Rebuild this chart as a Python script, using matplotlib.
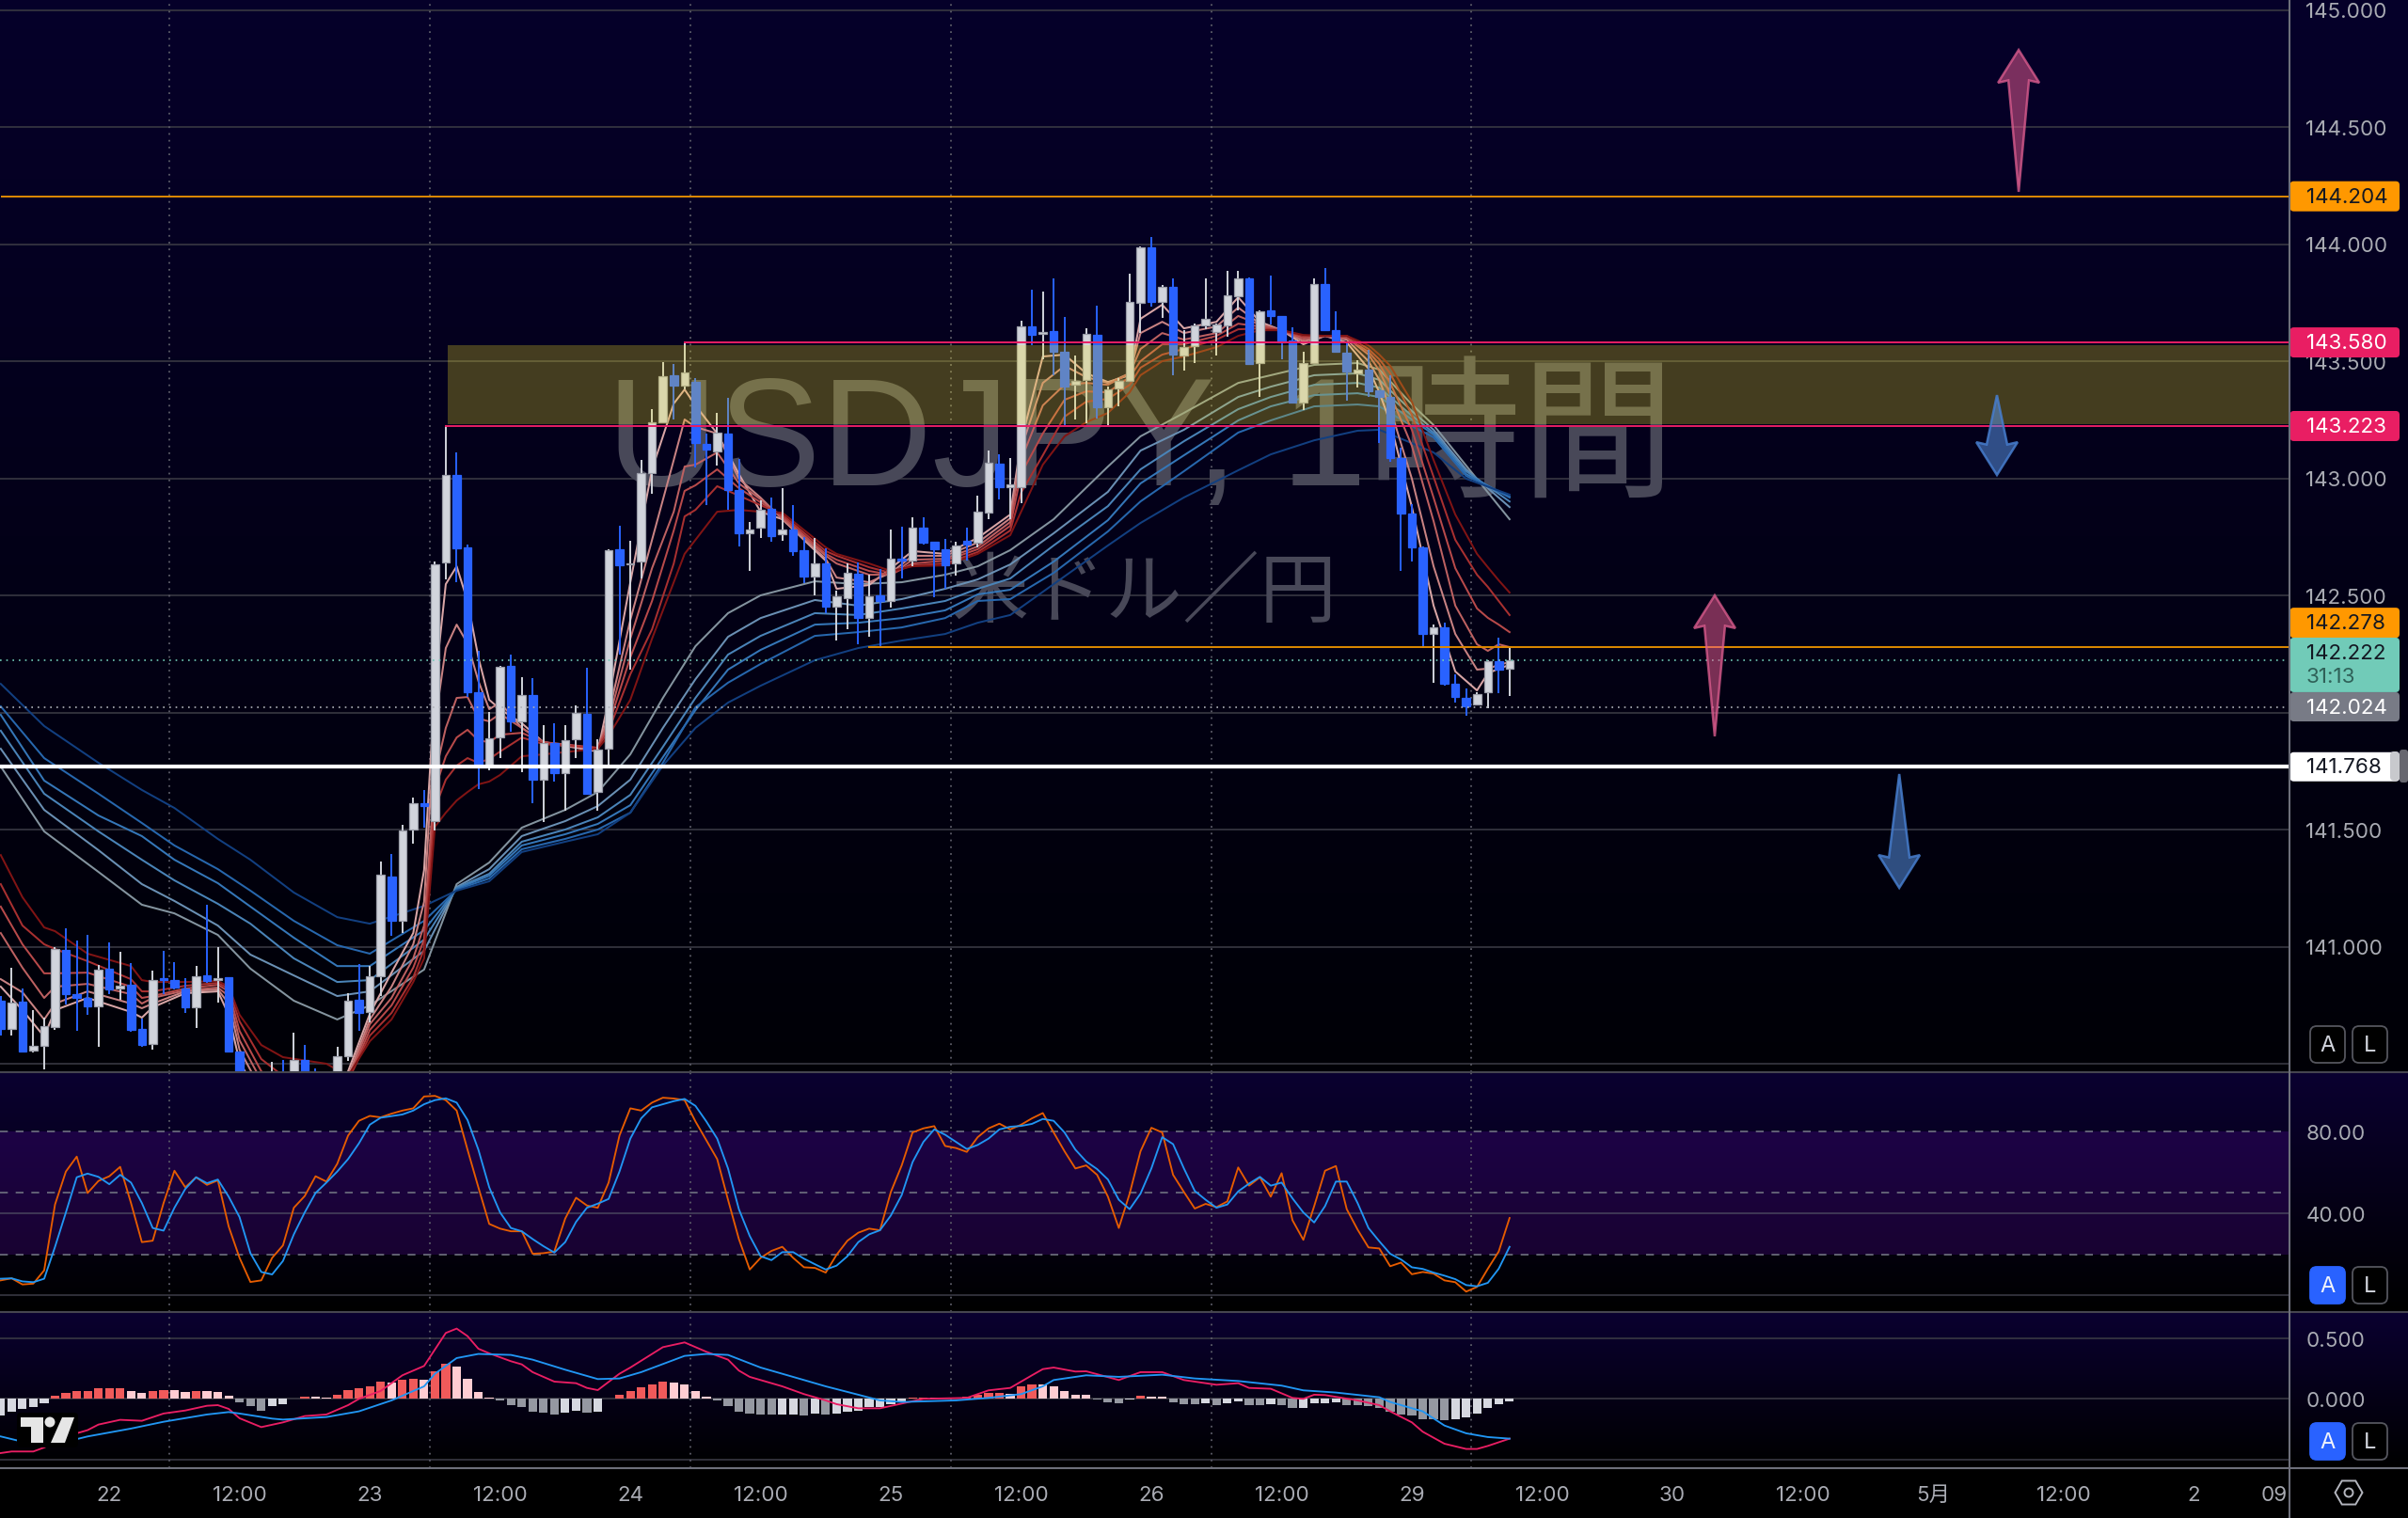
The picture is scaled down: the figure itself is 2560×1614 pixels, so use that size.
#!/usr/bin/env python
# coding=utf-8
import matplotlib
matplotlib.use('Agg')
import matplotlib.pyplot as plt
import numpy as np
from matplotlib.lines import Line2D
from matplotlib.patches import FancyBboxPatch, Polygon, Circle, RegularPolygon

plt.rcParams['font.family'] = ['Inter', 'Noto Sans CJK JP']

# candles, one hour each
opens = [140.769,140.648,140.765,140.557,140.577,140.658,140.987,140.797,140.782,140.745,
         140.905,140.820,140.836,140.648,140.584,140.865,140.856,140.820,140.741,140.876,
         140.857,140.869,140.551,140.400,140.340,140.360,140.440,140.380,140.517,140.440,
         140.380,140.420,140.532,140.772,140.722,140.874,141.299,141.110,141.500,141.612,
         141.536,142.641,143.014,142.705,142.086,141.773,141.894,142.199,141.962,142.074,
         141.713,141.869,141.741,141.886,141.994,141.661,141.845,142.697,142.633,142.645,
         143.022,143.239,143.440,143.396,143.412,143.147,143.114,143.191,142.950,142.765,
         142.789,142.869,142.761,142.781,142.693,142.580,142.637,142.452,142.488,142.592,
         142.404,142.500,142.476,142.657,142.649,142.789,142.729,142.697,142.637,142.733,
         142.725,142.853,143.062,142.962,142.962,143.649,143.616,143.628,143.540,143.400,
         143.420,143.612,143.303,143.384,143.416,143.749,143.986,143.753,143.817,143.524,
         143.564,143.653,143.624,143.653,143.777,143.853,143.492,143.717,143.693,143.588,
         143.323,143.492,143.829,143.633,143.536,143.448,143.464,143.375,143.347,143.086,
         142.849,142.705,142.335,142.363,142.123,142.062,142.034,142.086,142.219,142.187]
closes = [140.648,140.762,140.552,140.577,140.659,140.990,140.796,140.781,140.745,140.903,
          140.816,140.833,140.646,140.581,140.859,140.859,140.826,140.741,140.875,140.852,
          140.864,140.551,140.401,140.340,140.300,140.440,140.360,140.517,140.390,140.380,
          140.420,140.531,140.769,140.718,140.875,141.307,141.110,141.496,141.612,141.600,
          142.633,143.014,142.701,142.086,141.781,141.890,142.195,141.962,142.074,141.713,
          141.869,141.741,141.882,141.998,141.653,141.841,142.693,142.629,142.637,143.022,
          143.239,143.436,143.396,143.452,143.151,143.122,143.195,142.950,142.765,142.781,
          142.865,142.753,142.781,142.689,142.580,142.637,142.452,142.496,142.596,142.404,
          142.496,142.476,142.657,142.649,142.789,142.725,142.697,142.629,142.713,142.717,
          142.857,143.066,142.962,142.974,143.649,143.612,143.624,143.540,143.392,143.416,
          143.616,143.303,143.380,143.416,143.753,143.986,143.753,143.817,143.528,143.560,
          143.653,143.681,143.657,143.781,143.853,143.488,143.713,143.693,143.580,143.323,
          143.492,143.829,143.633,143.540,143.456,143.464,143.371,143.347,143.086,142.849,
          142.705,142.335,142.363,142.123,142.066,142.026,142.078,142.219,142.183,142.222]
highs = [140.789,140.909,140.822,140.729,140.695,140.996,141.077,141.026,141.050,140.920,
         141.019,140.976,140.930,140.693,140.896,140.982,140.932,140.865,140.916,141.177,
         140.996,140.869,140.551,140.400,140.380,140.510,140.515,140.632,140.579,140.481,
         140.440,140.571,140.802,140.926,140.916,141.363,141.396,141.520,141.637,141.669,
         142.645,143.227,143.110,142.717,142.263,142.002,142.199,142.247,142.151,142.147,
         141.946,141.954,141.946,142.030,142.191,141.886,142.697,142.797,142.733,143.078,
         143.295,143.496,143.488,143.576,143.428,143.191,143.279,143.343,143.082,142.813,
         142.906,142.918,142.958,142.886,142.749,142.745,142.701,142.520,142.637,142.641,
         142.588,142.612,142.781,142.793,142.833,142.833,142.729,142.741,142.729,142.789,
         142.926,143.118,143.102,143.086,143.673,143.805,143.797,143.853,143.689,143.524,
         143.641,143.737,143.392,143.428,143.873,143.990,144.030,143.825,143.853,143.633,
         143.661,143.853,143.661,143.886,143.886,143.858,143.717,143.865,143.693,143.645,
         143.540,143.853,143.898,143.713,143.576,143.504,143.548,143.375,143.440,143.131,
         142.890,142.709,142.376,142.384,142.163,142.102,142.086,142.223,142.319,142.279]
lows = [140.622,140.622,140.552,140.548,140.474,140.646,140.755,140.642,140.709,140.572,
        140.796,140.773,140.638,140.571,140.559,140.796,140.816,140.718,140.652,140.845,
        140.762,140.551,140.380,140.300,140.260,140.300,140.300,140.340,140.350,140.340,
        140.320,140.380,140.514,140.639,140.675,140.789,141.046,141.058,141.440,141.508,
        141.496,142.568,142.556,142.066,141.673,141.753,141.805,141.918,141.745,141.612,
        141.532,141.705,141.580,141.805,141.653,141.580,141.761,142.247,142.183,142.572,
        142.934,143.239,143.251,143.380,143.046,142.886,143.054,142.865,142.709,142.604,
        142.745,142.729,142.733,142.669,142.552,142.500,142.424,142.307,142.355,142.291,
        142.323,142.283,142.448,142.572,142.624,142.717,142.492,142.528,142.584,142.649,
        142.705,142.825,142.910,142.825,142.894,143.568,143.508,143.440,143.227,143.251,
        143.235,143.255,143.227,143.307,143.416,143.620,143.733,143.685,143.440,143.460,
        143.492,143.637,143.524,143.604,143.717,143.488,143.347,143.657,143.508,143.319,
        143.291,143.492,143.633,143.540,143.331,143.388,143.347,143.151,143.070,142.604,
        142.645,142.275,142.127,142.114,142.042,141.986,142.030,142.018,142.082,142.070]

# fast moving averages, read at these bars
short_x = [0,2,4,5,8,12,13,14,17,20,21,22,24,26,30,32,34,36,38,39,40,41,42,43,44,45,46,48,50,55,
           56,58,60,62,63,64,66,68,70,72,76,77,80,82,84,87,90,93,94,96,98,100,102,104,105,107,109,
           112,114,116,118,120,122,124,126,127,128,130,132,134,136,137,138,139]
short_1 = [140.829,140.729,140.616,140.729,140.781,140.721,140.697,140.741,140.801,140.809,
           140.709,140.508,140.347,140.267,140.267,140.468,140.713,140.889,141.058,141.327,
           142.114,142.548,142.624,142.476,142.235,142.054,142.014,141.954,141.873,141.833,
           142.054,142.556,143.038,143.319,143.379,143.311,143.191,143.018,142.857,142.825,
           142.648,142.528,142.544,142.616,142.689,142.677,142.745,142.845,143.158,143.520,
           143.528,143.448,143.411,143.440,143.681,143.741,143.640,143.668,143.773,143.668,
           143.632,143.572,143.608,143.580,143.468,143.367,143.239,142.877,142.456,142.175,
           142.094,142.167,142.187,142.203]
short_2 = [140.861,140.805,140.689,140.757,140.809,140.757,140.737,140.757,140.809,140.817,
           140.757,140.560,140.387,140.287,140.287,140.448,140.689,140.829,141.010,141.191,
           141.954,142.275,142.375,142.295,142.134,142.014,142.042,141.934,141.873,141.841,
           141.994,142.395,142.737,143.078,143.251,143.219,143.191,142.998,142.917,142.825,
           142.656,142.576,142.556,142.596,142.669,142.669,142.725,142.829,143.126,143.407,
           143.480,143.432,143.407,143.448,143.620,143.668,143.620,143.648,143.729,143.660,
           143.632,143.584,143.608,143.592,143.500,143.420,143.299,142.998,142.624,142.335,
           142.183,142.187,142.203,142.215]
short_3 = [141.058,140.910,140.781,140.829,140.841,140.797,140.757,140.781,140.813,140.825,
           140.789,140.600,140.428,140.339,140.327,140.436,140.669,140.781,140.950,141.090,
           141.733,141.934,142.062,142.066,141.974,141.962,141.994,141.934,141.873,141.845,
           141.966,142.315,142.616,142.857,143.050,143.058,143.110,142.978,142.910,142.829,
           142.669,142.636,142.588,142.588,142.652,142.656,142.709,142.813,143.078,143.311,
           143.399,143.407,143.399,143.448,143.552,143.620,143.592,143.620,143.693,143.656,
           143.632,143.592,143.608,143.600,143.528,143.460,143.359,143.138,142.817,142.456,
           142.291,142.263,142.291,142.279]
short_4 = [141.171,141.010,140.886,140.886,140.889,140.829,140.781,140.789,140.821,140.837,
           140.809,140.640,140.468,140.387,140.367,140.428,140.644,140.749,140.910,141.030,
           141.673,141.813,141.893,141.926,141.881,141.873,141.905,141.913,141.873,141.849,
           141.946,142.235,142.476,142.777,142.946,142.970,143.038,142.958,142.897,142.837,
           142.677,142.652,142.604,142.588,142.636,142.648,142.697,142.797,143.018,143.191,
           143.335,143.371,143.367,143.432,143.500,143.572,143.572,143.608,143.660,143.648,
           143.632,143.600,143.608,143.600,143.540,143.488,143.407,143.207,142.917,142.616,
           142.444,142.404,142.375,142.343]
short_5 = [141.267,141.090,141.010,140.990,140.938,140.861,140.809,140.809,140.833,140.845,
           140.821,140.681,140.520,140.448,140.428,140.428,140.620,140.717,140.869,140.990,
           141.592,141.713,141.773,141.805,141.785,141.801,141.833,141.893,141.865,141.849,
           141.922,142.163,142.355,142.636,142.837,142.865,142.966,142.926,142.885,142.845,
           142.689,142.669,142.620,142.596,142.628,142.636,142.685,142.777,142.938,143.098,
           143.263,143.327,143.339,143.399,143.472,143.528,143.552,143.592,143.636,143.640,
           143.632,143.608,143.608,143.608,143.552,143.508,143.448,143.271,143.006,142.737,
           142.588,142.536,142.476,142.416]
short_6 = [141.391,141.211,141.082,141.066,140.970,140.917,140.857,140.849,140.849,140.853,
           140.829,140.709,140.580,140.528,140.500,140.448,140.596,140.689,140.849,140.950,
           141.512,141.572,141.624,141.660,141.693,141.705,141.733,141.813,141.821,141.845,
           141.901,142.054,142.315,142.556,142.677,142.737,142.857,142.865,142.857,142.853,
           142.705,142.677,142.636,142.604,142.624,142.628,142.677,142.757,142.857,143.058,
           143.179,143.239,143.279,143.367,143.440,143.500,143.520,143.560,143.608,143.632,
           143.632,143.612,143.608,143.608,143.568,143.528,143.480,143.327,143.078,142.845,
           142.677,142.620,142.564,142.512]

# slow moving averages
long_x = [0,4,9,13,16,20,23,27,31,34,39,42,45,48,52,55,58,61,64,67,70,75,79,83,87,90,93,97,102,105,
          109,114,117,121,125,127,130,132,135,139]
long_1 = [141.769,141.492,141.319,141.179,141.142,141.050,140.906,140.769,140.689,140.749,
          140.902,141.267,141.359,141.508,141.584,141.660,141.821,142.062,142.283,142.424,
          142.500,142.560,142.548,142.556,142.588,142.624,142.693,142.825,143.050,143.179,
          143.279,143.407,143.440,143.484,143.492,143.464,143.315,143.227,143.054,142.825]
long_2 = [141.845,141.584,141.412,141.267,141.195,141.090,140.966,140.877,140.789,140.809,
          140.982,141.255,141.331,141.472,141.536,141.600,141.713,141.934,142.142,142.323,
          142.403,142.480,142.456,142.484,142.528,142.568,142.632,142.765,142.942,143.118,
          143.207,143.347,143.391,143.440,143.448,143.420,143.287,143.207,143.038,142.877]
long_3 = [141.922,141.653,141.492,141.371,141.283,141.183,141.098,140.950,140.849,140.857,
          141.030,141.251,141.311,141.448,141.500,141.552,141.648,141.853,142.062,142.247,
          142.327,142.424,142.416,142.444,142.476,142.528,142.572,142.713,142.881,143.038,
          143.158,143.295,143.347,143.399,143.407,143.387,143.267,143.195,143.030,142.901]
long_4 = [141.990,141.709,141.560,141.472,141.371,141.271,141.171,141.038,140.917,140.917,
          141.070,141.247,141.303,141.432,141.480,141.524,141.604,141.809,142.010,142.183,
          142.267,142.375,142.383,142.403,142.436,142.504,142.524,142.644,142.821,142.978,
          143.098,143.247,143.307,143.355,143.363,143.347,143.251,143.187,143.018,142.918]
long_5 = [142.026,141.805,141.653,141.528,141.432,141.331,141.239,141.110,141.006,140.970,
          141.110,141.243,141.291,141.416,141.460,141.500,141.572,141.785,142.022,142.127,
          142.207,142.327,142.343,142.363,142.403,142.476,142.484,142.596,142.773,142.901,
          143.030,143.195,143.247,143.307,143.315,143.307,143.223,143.175,143.010,142.922]
long_6 = [142.122,141.942,141.785,141.669,141.592,141.460,141.371,141.231,141.126,141.098,
          141.174,141.239,141.279,141.404,141.448,141.480,141.572,141.773,141.934,142.042,
          142.114,142.223,142.275,142.307,142.335,142.383,142.416,142.548,142.713,142.809,
          142.918,143.034,143.102,143.162,143.203,143.207,143.150,143.110,142.998,142.930]

# stochastic RSI
stoch_k = [7.2,8.2,5.2,5.6,12.1,44.3,60.4,67.7,49.9,55.8,58.1,62.7,45.0,25.9,26.6,45.0,60.8,52.7,57.6,53.9,
           56.1,33.5,18.2,6.4,7.2,18.2,24.3,42.7,48.4,58.1,55.5,64.2,78.0,85.2,87.6,86.9,88.7,90.2,91.3,97.1,
           97.4,95.3,90.2,71.1,52.7,34.8,32.5,31.2,31.2,20.2,20.5,21.3,37.4,47.6,43.8,42.7,55.0,78.0,91.3,90.2,
           94.1,96.5,96.1,95.3,84.9,75.7,66.5,46.6,27.4,12.5,18.2,21.6,23.6,18.2,
           13.6,13.3,11.0,19.7,26.6,30.5,32.5,31.7,50.4,63.4,79.5,81.5,82.6,72.9,71.9,70.0,77.2,81.5,83.8,81.0,
           83.3,86.4,89.0,79.5,70.3,61.9,63.4,58.8,48.1,32.8,49.6,70.3,81.8,79.5,58.8,50.4,42.3,44.6,43.0,45.8,
           62.4,53.5,57.6,48.1,59.6,36.6,27.0,43.5,60.8,63.1,42.0,32.0,23.3,22.8,14.1,15.9,10.2,11.3,10.5,7.2,
           6.3,1.7,4.0,12.9,21.3,37.7]
stoch_d = [8.0,8.2,6.7,6.3,8.0,23.6,40.4,57.6,59.4,57.8,54.2,58.8,55.0,45.0,32.8,31.5,42.7,51.9,57.6,54.7,
           56.5,48.1,38.1,20.5,11.3,10.1,16.7,29.7,40.4,49.9,55.0,60.4,66.5,74.2,83.3,86.7,87.5,88.3,90.2,93.3,
           95.3,96.2,94.1,85.6,71.1,52.7,40.4,32.8,31.2,27.4,23.9,20.8,25.9,35.8,42.7,44.7,47.0,60.4,76.5,86.4,
           91.8,93.3,94.8,95.9,92.5,84.9,76.5,61.9,42.0,28.9,19.0,17.1,21.0,21.0,
           17.8,15.1,12.5,14.4,19.0,25.9,29.7,31.7,38.9,48.9,65.0,74.9,81.0,78.4,74.9,71.4,73.4,76.5,81.0,82.3,
           82.7,83.7,86.1,85.2,79.5,71.1,65.3,61.6,56.5,46.6,42.0,49.6,61.9,77.2,73.8,61.9,50.9,46.6,42.7,44.3,
           50.7,54.5,57.8,53.5,55.0,47.3,40.4,35.5,43.5,55.5,55.5,45.0,32.8,26.3,20.2,17.4,13.6,12.8,11.0,9.5,
           7.8,4.9,4.3,6.0,12.9,23.6]

# MACD
macd_hist = [-.137,-.103,-.085,-.065,-.034,.026,.049,.065,.066,.085,.086,.087,.065,.049,.065,.072,.071,.057,.065,.064,
             .057,.028,-.026,-.059,-.096,-.059,-.044,.005,.021,.020,.013,.034,.072,.085,.101,.142,.137,.158,.163,.158,
             .230,.287,.266,.165,.057,.008,-.013,-.052,-.065,-.109,-.116,-.129,-.116,-.096,-.116,-.103,.005,.034,.065,.096,
             .121,.142,.137,.116,.065,.021,-.013,-.059,-.103,-.124,-.129,-.132,-.129,-.128,-.137,-.121,-.129,-.121,-.103,-.096,
             -.070,-.069,-.044,-.026,.008,.009,.008,.007,.008,.018,.034,.049,.050,.044,.101,.121,.120,.101,.065,.034,
             .033,-.003,-.028,-.034,-.008,.028,.021,.016,-.028,-.041,-.042,-.040,-.049,-.036,-.021,-.049,-.052,-.044,-.052,-.078,
             -.077,-.034,-.033,-.032,-.052,-.053,-.059,-.078,-.109,-.129,-.135,-.168,-.169,-.173,-.168,-.155,-.121,-.078,-.044,-.018]
macd_x = [0,1,3,4,6,8,9,11,13,15,17,19,20,21,22,24,26,28,30,32,33,35,37,39,41,42,43,44,45,47,48,49,51,53,54,55,57,58,
          61,63,65,67,68,69,72,74,76,77,79,81,83,85,89,91,93,95,96,97,99,100,103,105,107,109,112,114,115,117,119,120,121,
          122,125,127,128,130,131,133,135,136,137,139]
macd_line = [-.447,-.434,-.434,-.401,-.310,-.258,-.212,-.173,-.181,-.121,-.096,-.057,-.052,-.083,-.160,-.233,-.194,-.142,
             -.129,-.052,0,.065,.194,.271,.543,.579,.517,.413,.375,.310,.284,.220,.142,.129,.090,.072,.207,.258,.426,.465,
             .388,.323,.233,.181,.103,.039,-.013,-.044,-.078,-.078,-.039,0,.008,.070,.090,.194,.245,.258,.225,.227,.155,.220,
             .220,.155,.116,.129,.090,.083,.008,0,.034,.031,-.013,-.052,-.103,-.194,-.271,-.370,-.413,-.413,-.388,-.328]
signal_x = [0,3,6,8,12,15,19,21,22,25,26,30,33,36,39,40,42,44,47,49,52,55,57,59,63,65,67,70,74,76,79,81,83,88,91,94,96,97,
            100,103,107,110,114,118,120,123,127,128,131,133,135,137,139]
signal_line = [-.310,-.375,-.354,-.310,-.245,-.189,-.129,-.109,-.121,-.163,-.171,-.150,-.103,-.013,.103,.207,.336,.370,.362,
               .323,.240,.163,.168,.220,.354,.370,.362,.258,.155,.103,.034,-.013,-.026,-.013,.008,.039,.103,.155,.194,.181,
               .199,.168,.147,.109,.070,.052,.013,-.026,-.103,-.220,-.284,-.315,-.328]

# levels drawn by hand
orange_levels = [144.204, 142.278]
orange_start = [0, 79.9]
pink_levels = [143.580, 143.223]
pink_start = [62.9, 40.9]
white_level = 141.768
last_price = 142.222
low_price = 142.024
zone_low, zone_high, zone_start = 143.231, 143.568, 41.2

# arrows: bar, tail price, tip price
arrow_x = [185.9, 157.9, 183.9, 174.9]
arrow_tail = [144.223, 141.898, 143.355, 141.737]
arrow_tip = [144.829, 142.500, 143.014, 141.251]
arrow_up = [True, True, False, False]

price_ticks = [141, 141.5, 142, 142.5, 143, 143.5, 144, 144.5, 145]
stoch_ticks = [80, 40]
macd_ticks = [0.5, 0]
time_pos = [10, 22, 34, 46, 58, 70, 82, 94, 106, 118, 130, 142, 154, 166, 178, 190, 202, 209.4]
time_labels = ['22', '12:00', '23', '12:00', '24', '12:00', '25', '12:00', '26', '12:00',
               '29', '12:00', '30', '12:00', '5月', '12:00', '2', '09']
day_lines = [15.5, 39.5, 63.5, 87.5, 111.5, 135.5]

W, H = 2560, 1615
AXIS_X = 2434
MAIN_B, STOCH_B, MACD_B = 1141, 1396, 1562
BAR_PX, BAR_X0, PRICE_PX = 11.54, 0.8, 249.0

x_left = -BAR_X0 / BAR_PX
x_right = (AXIS_X - BAR_X0) / BAR_PX
grid_c = '#383842'
text_c = '#a9abb3'
up_c, down_c = '#d1d4dc', '#2962ff'
label_size = 16.1

fig = plt.figure(figsize=(W / 100, H / 100), dpi=100, facecolor='black')


def pane(top, bottom):
    a = fig.add_axes([0, 1 - bottom / H, AXIS_X / W, (bottom - top) / H], facecolor='none')
    a.set_xlim(x_left, x_right)
    for s in a.spines.values():
        s.set_visible(False)
    a.set_axisbelow(True)
    a.yaxis.tick_right()
    a.tick_params(axis='y', length=0, pad=12.5, labelsize=label_size, labelcolor=text_c)
    a.tick_params(axis='x', length=0)
    a.set_xticks([])
    for d in day_lines:
        a.axvline(d, color='#5c5c68', lw=1.3, ls=(0, (1, 3)), zorder=0.6)
    return a


# gradient background behind the three panes
bg = fig.add_axes([0, 0, 1, 1], zorder=-1)
column = np.zeros((H, 1, 3))
for top, bottom, c1, c2 in [(0, MAIN_B, (6, 0, 42), (0, 0, 6)),
                            (MAIN_B, STOCH_B, (10, 0, 48), (0, 0, 0)),
                            (STOCH_B, MACD_B, (10, 0, 48), (0, 0, 0))]:
    for k in range(3):
        column[top:bottom, 0, k] = np.linspace(c1[k], c2[k], bottom - top) / 255
bg.imshow(column, aspect='auto', extent=(0, W, H, 0))
bg.axis('off')

# main pane
ax = pane(0, MAIN_B)
ax.set_ylim(142.5 - (MAIN_B - 634) / PRICE_PX, 142.5 + 634 / PRICE_PX)
ax.set_yticks(price_ticks)
# 142.000 sits under the price tags in the original, only its grid line shows
ax.set_yticklabels(['' if p == 142 else '%.3f' % p for p in price_ticks])
ax.grid(axis='y', color=grid_c, lw=1.2)
ax.axhline(140.5, color=grid_c, lw=1.2, zorder=0.5)

wm = ['Liberation Sans', 'Noto Sans CJK JP']
ax.text(105.0, 143.155, 'USDJPY, 1時間', family=wm, fontsize=118, color='#484858', ha='center', va='center', zorder=1)
ax.text(105.3, 142.50, '米ドル／円', family=wm, fontsize=59, color='#484858', ha='center', va='center', zorder=1)

short_colors = ['#d9a6a6', '#c98383', '#bd6161', '#b84a4a', '#a83030', '#801414']
for vals, c in zip([short_1, short_2, short_3, short_4, short_5, short_6], short_colors):
    ax.plot(short_x, vals, color=c, lw=1.45, zorder=3)
long_colors = ['#84949f', '#6a90b4', '#4a84b8', '#3577b8', '#2767ad', '#123f80']
for vals, c in zip([long_1, long_2, long_3, long_4, long_5, long_6], long_colors):
    ax.plot(long_x, vals, color=c, lw=1.45, zorder=2.9)

bars_x = np.arange(len(opens))
is_up = np.array(closes) >= np.array(opens)
colors = [up_c if u else down_c for u in is_up]
edges = ['#9a9da8' if u else down_c for u in is_up]
ax.vlines(bars_x, lows, highs, colors=colors, lw=1.4, zorder=4)
tops = np.maximum(opens, closes)
bots = np.minimum(opens, closes)
ax.bar(bars_x, tops - bots, bottom=bots, width=0.74, color=colors, edgecolor=edges, lw=0.9, zorder=4.1)

ax.fill_between([zone_start, x_right], zone_low, zone_high, color=(245 / 255, 226 / 255, 41 / 255), alpha=0.27, lw=0, zorder=5)
ax.hlines(orange_levels, orange_start, x_right, color='#e08a00', lw=1.4, zorder=6)
ax.hlines(pink_levels, pink_start, x_right, color='#e91e63', lw=1.4, zorder=6)
ax.axhline(last_price, color='#71cbb8', lw=1.2, ls=(0, (1, 3)), zorder=6)
ax.axhline(low_price, color='#b0b2ba', lw=1.2, ls=(0, (1, 3)), zorder=6)
ax.axhline(white_level, color='white', lw=3.0, zorder=6)

# hand drawn arrows
head_len, head_half, neck_half = 0.14, 1.9, 0.95
for bx, tail, tip, up in zip(arrow_x, arrow_tail, arrow_tip, arrow_up):
    sign = 1 if up else -1
    neck = tip - sign * head_len
    pts = [(bx, tip), (bx + head_half, neck), (bx + neck_half, neck + sign * 0.01), (bx, tail),
           (bx - neck_half, neck + sign * 0.01), (bx - head_half, neck)]
    face = (240 / 255, 95 / 255, 150 / 255, 0.5) if up else (90 / 255, 150 / 255, 235 / 255, 0.52)
    edge = (225 / 255, 95 / 255, 145 / 255, 0.75) if up else (70 / 255, 125 / 255, 205 / 255, 0.85)
    ax.add_patch(Polygon(pts, closed=True, facecolor=face, edgecolor=edge, lw=1.8, zorder=7))


# price tags on the axis
def tag(center, height_px, color, label=None, text_color='#131722'):
    right = (2551 - BAR_X0) / BAR_PX
    h = height_px / PRICE_PX
    ax.add_patch(FancyBboxPatch((x_right + 0.05, center - h / 2), right - x_right - 0.05, h,
                                boxstyle='round,pad=0,rounding_size=0.35', mutation_aspect=BAR_PX / PRICE_PX,
                                facecolor=color, edgecolor='none', clip_on=False, zorder=8))
    if label:
        tag_text(center, label, text_color)


def tag_text(price, label, color):
    ax.text(2452 / AXIS_X, price, label, transform=ax.get_yaxis_transform(), fontsize=label_size, color=color,
            ha='left', va='center', clip_on=False, zorder=9)


tag(144.204, 32, '#ff9800', '144.204')
tag(143.580, 32, '#e91e63', '143.580', 'white')
tag(143.223, 32, '#e91e63', '143.223', 'white')
tag(142.383, 32, '#ff9800', '142.278')
tag(142.203, 58, '#71cbb8')
tag_text(142.257, '142.222', '#131722')
tag_text(142.153, '31:13', '#2f6158')
tag(142.024, 31, '#787b86', '142.024', 'white')
tag(141.768, 31, 'white', '141.768')

# stochastic pane
ax2 = pane(MAIN_B, STOCH_B)
ax2.set_ylim((1378 - STOCH_B) / 2.175, (1378 - MAIN_B) / 2.175)
ax2.set_yticks(stoch_ticks)
ax2.set_yticklabels(['%.2f' % v for v in stoch_ticks])
ax2.axhspan(20, 80, color=(0.45, 0.05, 0.8), alpha=0.2, lw=0, zorder=0.4)
for v in [40, 0]:
    ax2.axhline(v, color='#45405a' if v else grid_c, lw=1.2, zorder=0.5)
for v in [80, 50, 20]:
    ax2.axhline(v, color='#6f7180', lw=1.2, ls=(0, (5, 5)), zorder=0.7)
ax2.plot(bars_x, stoch_k, color='#e65c00', lw=1.35, zorder=3)
ax2.plot(bars_x, stoch_d, color='#2196f3', lw=1.35, zorder=3.1)

# macd pane
ax3 = pane(STOCH_B, MACD_B)
ax3.set_ylim((1488.3 - MACD_B) / 129, (1488.3 - STOCH_B) / 129)
ax3.set_yticks(macd_ticks)
ax3.set_yticklabels(['%.3f' % v for v in macd_ticks])
for v in [0.5, 0, -0.5]:
    ax3.axhline(v, color=grid_c, lw=1.2, zorder=0.5)
hist_colors = []
for k, h in enumerate(macd_hist):
    prev = macd_hist[k - 1] if k else h
    if h >= 0:
        hist_colors.append('#f05a5a' if h >= prev else '#ffcdd2')
    else:
        hist_colors.append('#9598a1' if h < prev else '#d6d8e0')
ax3.bar(bars_x, macd_hist, width=0.8, color=hist_colors, lw=0, zorder=2)
ax3.plot(macd_x, macd_line, color='#e91e63', lw=1.35, zorder=3)
ax3.plot(signal_x, signal_line, color='#2196f3', lw=1.35, zorder=3.1)
ax3.set_xticks(time_pos)
ax3.set_xticklabels(time_labels)
ax3.tick_params(axis='x', labelsize=label_size, labelcolor=text_c, pad=13)

# separators
over = fig.add_axes([0, 0, 1, 1], facecolor='none', zorder=20)
over.set_xlim(0, W)
over.set_ylim(H, 0)
over.axis('off')
for y, c in [(MAIN_B, '#45454f'), (STOCH_B, '#45454f'), (MACD_B, '#6d6f7a')]:
    over.add_line(Line2D([0, W], [y, y], color=c, lw=1.5))
over.add_line(Line2D([AXIS_X, AXIS_X], [0, H], color='#6d6f7a', lw=1.5))


def button(x, y, w, h, label, active=False):
    over.add_patch(FancyBboxPatch((x, y), w, h, boxstyle='round,pad=0,rounding_size=7',
                                  facecolor='#2962ff' if active else 'black',
                                  edgecolor='#2962ff' if active else '#55565e', lw=1.3))
    over.text(x + w / 2, y + h / 2 + 0.5, label, fontsize=17, color='#f0f3fa' if active else '#d1d4dc',
              ha='center', va='center')


for y0, act in [(1092, False), (1348, True), (1514, True)]:
    button(2456, y0, 37, 39, 'A', act)
    button(2501, y0, 37, 39, 'L')

# handle on the white level tag
over.add_patch(FancyBboxPatch((2541, 800), 10, 31, boxstyle='round,pad=0,rounding_size=4', facecolor='#c8c9cd', edgecolor='none'))
over.add_patch(FancyBboxPatch((2551, 798), 9, 35, boxstyle='round,pad=0,rounding_size=3', facecolor='#66666e', edgecolor='none'))

# settings icon
over.add_patch(RegularPolygon((2497, 1588), 6, radius=14.5, orientation=np.pi / 2, facecolor='none', edgecolor='#b4b6be', lw=1.4))
over.add_patch(Circle((2497, 1588), 4.5, facecolor='none', edgecolor='#b4b6be', lw=1.4))

# tradingview logo
over.add_patch(FancyBboxPatch((18, 1503), 65, 37, boxstyle='round,pad=0,rounding_size=4', facecolor='black', edgecolor='none'))
logo_c = '#e6e6e6'
over.add_patch(Polygon([(22, 1508), (46, 1508), (46, 1535), (32.5, 1535), (32.5, 1518), (22, 1518)], facecolor=logo_c, edgecolor='none'))
over.add_patch(Circle((53, 1513), 5.5, facecolor=logo_c, edgecolor='none'))
over.add_patch(Polygon([(66, 1508), (79, 1508), (69, 1535), (54, 1535)], facecolor=logo_c, edgecolor='none'))

fig.savefig('out.png', dpi=100, facecolor='black')
